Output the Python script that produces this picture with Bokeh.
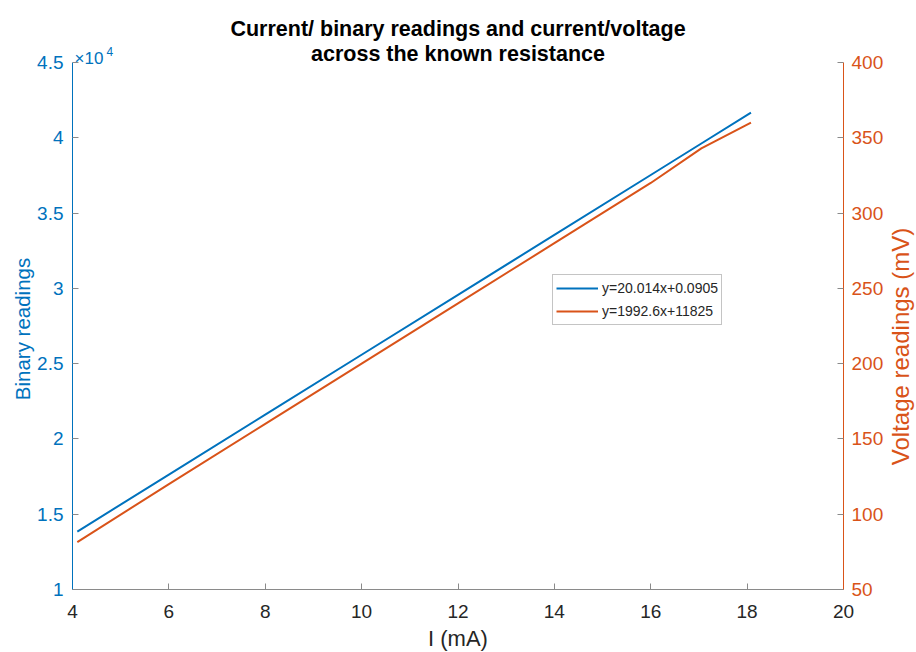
import math
from bokeh.plotting import figure
from bokeh.models import (Range1d, LinearAxis, FixedTicker, Legend, LegendItem, Label)
from bokeh.embed import file_html
from bokeh.resources import INLINE

# ---- data ----
current_mA = [4.1, 6.0, 8.0, 10.0, 12.0, 14.0, 16.0, 17.05, 18.08]
binary_readings = [13850, 17630, 21610, 25590, 29570, 33550, 37530, 39620, 41670]
voltage_mV = [81.5, 120, 160, 200, 240, 280, 320, 343, 360]

x_ticks = [4, 6, 8, 10, 12, 14, 16, 18, 20]
left_ticks = [10000, 15000, 20000, 25000, 30000, 35000, 40000, 45000]
left_tick_labels = ["1", "1.5", "2", "2.5", "3", "3.5", "4", "4.5"]
right_ticks = [50, 100, 150, 200, 250, 300, 350, 400]

title_line1 = "Current/ binary readings and current/voltage"
title_line2 = "across the known resistance"
x_label = "I (mA)"
left_label = "Binary readings"
right_label = "Voltage readings (mV)"
legend_labels = ["y=20.014x+0.0905", "y=1992.6x+11825"]

BLUE = "#0072BD"
ORANGE = "#D95319"
DARK = "#262626"
AXGRAY = "#8a8a8a"
FONT = "Liberation Sans"

# ---- layout (pixels on the page) ----
W, H = 916, 652
AX_LEFT, AX_RIGHT, AX_BOTTOM, AX_TOP = 72, 843, 589, 62
X0, X1 = x_ticks[0], x_ticks[-1]
L0, L1 = left_ticks[0], left_ticks[-1]
R0, R1 = right_ticks[0], right_ticks[-1]
ppu_x = (AX_RIGHT - AX_LEFT) / (X1 - X0)
ppu_left = (AX_BOTTOM - AX_TOP) / (L1 - L0)
ppu_right = (AX_BOTTOM - AX_TOP) / (R1 - R0)

def px_to_x(px):
    return X0 + (px - AX_LEFT) / ppu_x

def py_to_y(py):
    return L0 + (AX_BOTTOM - py) / ppu_left

def py_to_v(py):
    return R0 + (AX_BOTTOM - py) / ppu_right

p = figure(width=W, height=H, output_backend="svg", toolbar_location=None,
           x_range=Range1d(px_to_x(0), px_to_x(W)),
           y_range=Range1d(py_to_y(H), py_to_y(0)),
           title=None, min_border_left=0, min_border_right=0,
           min_border_top=0, min_border_bottom=0)
p.outline_line_color = None
p.grid.visible = False
p.background_fill_color = "white"
p.border_fill_color = "white"
p.extra_y_ranges = {"volt": Range1d(py_to_v(H), py_to_v(0))}

# x axis, pinned at the bottom of the axes box
xa = p.xaxis[0]
xa.ticker = FixedTicker(ticks=x_ticks)
xa.bounds = (X0, X1)
xa.fixed_location = L0
xa.major_label_text_font = FONT
xa.major_label_text_font_size = "19px"
xa.major_label_text_color = DARK
xa.major_label_standoff = 15
xa.axis_line_color = AXGRAY
xa.major_tick_line_color = AXGRAY
xa.major_tick_in = 6
xa.major_tick_out = 0
xa.minor_tick_line_color = None

# left axis, pinned at x = 4
ya = p.yaxis[0]
ya.ticker = FixedTicker(ticks=left_ticks)
ya.bounds = (L0, L1)
ya.fixed_location = X0
ya.major_label_overrides = dict(zip(left_ticks, left_tick_labels))
ya.major_label_text_font = FONT
ya.major_label_text_font_size = "19px"
ya.major_label_text_color = BLUE
ya.major_label_standoff = 9
ya.axis_line_color = BLUE
ya.major_tick_line_color = AXGRAY
ya.major_tick_in = 6
ya.major_tick_out = 0
ya.minor_tick_line_color = None

# right axis, pinned at x = 20
ra = LinearAxis(y_range_name="volt", ticker=FixedTicker(ticks=right_ticks))
ra.bounds = (R0, R1)
ra.fixed_location = X1
ra.major_label_text_font = FONT
ra.major_label_text_font_size = "19px"
ra.major_label_text_color = ORANGE
ra.major_label_standoff = 8
ra.axis_line_color = ORANGE
ra.major_tick_line_color = AXGRAY
ra.major_tick_in = 6
ra.major_tick_out = 0
ra.minor_tick_line_color = None
p.add_layout(ra, "right")

# lines
r_bin = p.line(current_mA, binary_readings, line_color=BLUE, line_width=2)
r_volt = p.line(current_mA, voltage_mV, line_color=ORANGE, line_width=2,
                y_range_name="volt")

# axis titles
p.add_layout(Label(x=px_to_x(457.5), y=py_to_y(637.5), text=x_label,
                   text_font=FONT, text_font_size="22px", text_color=DARK,
                   text_align="center", text_baseline="middle"))
p.add_layout(Label(x=px_to_x(21.5), y=py_to_y(328.5), text=left_label,
                   text_font=FONT, text_font_size="20.5px", text_color=BLUE,
                   angle=math.pi / 2, text_align="center", text_baseline="middle"))
p.add_layout(Label(x=px_to_x(900), y=py_to_y(346), text=right_label,
                   text_font=FONT, text_font_size="24px", text_color=ORANGE,
                   angle=math.pi / 2, text_align="center", text_baseline="middle"))

# title (two lines)
x_mid = (X0 + X1) / 2
for txt, base in ((title_line1, 28), (title_line2, 53)):
    p.add_layout(Label(x=x_mid, y=py_to_y(base), text=txt, text_font=FONT,
                       text_font_size="21.5px", text_font_style="bold",
                       text_color="black", text_align="center",
                       text_baseline="alphabetic"))

# x10^4 exponent of the left axis
p.add_layout(Label(x=px_to_x(74), y=py_to_y(58), text="\u00d710", text_font=FONT,
                   text_font_size="17px", text_color=BLUE,
                   text_align="left", text_baseline="alphabetic"))
p.add_layout(Label(x=px_to_x(106), y=py_to_y(51), text="4", text_font=FONT,
                   text_font_size="12px", text_color=BLUE,
                   text_align="left", text_baseline="alphabetic"))

legend = Legend(items=[LegendItem(label=legend_labels[0], renderers=[r_bin]),
                       LegendItem(label=legend_labels[1], renderers=[r_volt])],
                location=(552, H - 325))
legend.label_text_font = FONT
legend.label_text_font_size = "14px"
legend.label_text_color = DARK
legend.glyph_width = 42
legend.glyph_height = 20
legend.label_height = 20
legend.label_standoff = 4
legend.padding = 3
legend.spacing = 3
legend.margin = 0
legend.border_line_color = AXGRAY
legend.border_line_width = 1
legend.background_fill_color = "white"
p.add_layout(legend, "center")

open("out.html", "w").write(file_html(p, INLINE))
